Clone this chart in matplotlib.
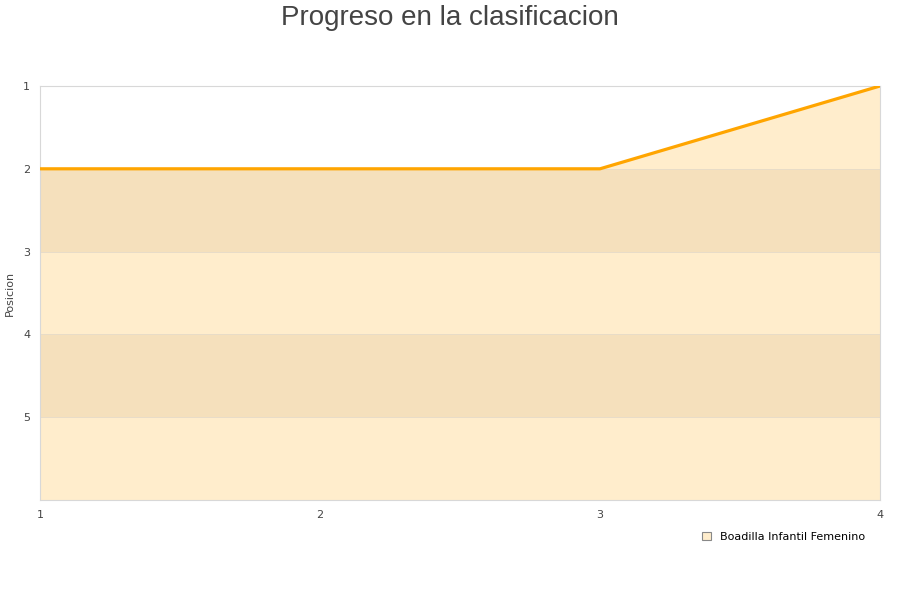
import matplotlib.pyplot as plt

# Data
jornadas = [1, 2, 3, 4]
posicion = [2, 2, 2, 1]
y_ticks = [1, 2, 3, 4, 5]
equipo = 'Boadilla Infantil Femenino'

fig = plt.figure(figsize=(9, 6), dpi=100)
ax = fig.add_axes([40 / 900, 100 / 600, 840 / 900, 414 / 600])

# alternating bands
for lo in (2, 4):
    ax.axhspan(lo, lo + 1, color='#b08850', alpha=0.12, lw=0, zorder=2)

ax.fill_between(jornadas, posicion, 6, color='#ffedcc', lw=0, zorder=1)
ax.plot(jornadas, posicion, color='#ffa500', lw=2.3, zorder=3,
        solid_capstyle='butt')

for t in y_ticks:
    ax.axhline(t, color='#e8dcc8', lw=0.7, zorder=2)

ax.set_xlim(1, 4)
ax.set_ylim(6, 1)
ax.set_xticks(jornadas)
ax.set_yticks(y_ticks)
ax.tick_params(length=0, labelsize=8, colors='#444444')
ax.tick_params(axis='x', pad=7)
ax.tick_params(axis='y', pad=7)
for s in ax.spines.values():
    s.set_color('#d8d8d8')

ax.set_ylabel('Posicion', fontsize=8, color='#444444', labelpad=6)
fig.text(0.5, 0.992, 'Progreso en la clasificacion', ha='center', va='top',
         fontsize=20, color='#444444', family='Liberation Sans')

h = plt.Rectangle((0, 0), 1, 1, facecolor='#ffedcc', edgecolor='#888888', lw=0.8)
fig.legend([h], [equipo], loc='center right', bbox_to_anchor=(0.972, 0.105),
           frameon=False, fontsize=8, handlelength=0.8, handleheight=0.8,
           handletextpad=0.8)

fig.savefig('out.png', dpi=100)
